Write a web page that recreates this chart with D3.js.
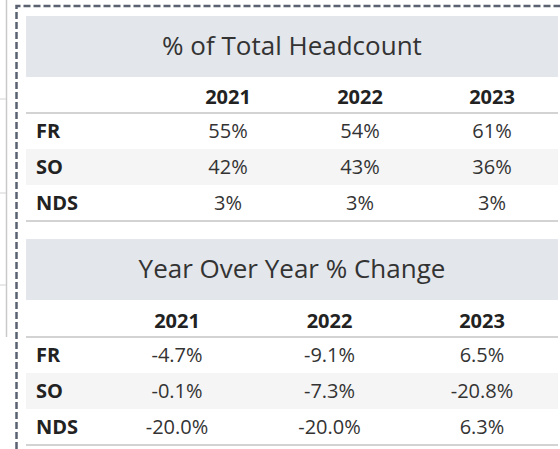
<!DOCTYPE html>
<html>
<head>
<meta charset="utf-8">
<script src="https://cdn.jsdelivr.net/npm/d3@7"></script>
<style>
  body { margin: 0; background: #fff; }
  svg { display: block; }
</style>
</head>
<body>
<div id="chart"></div>
<script>
var years = ["2021", "2022", "2023"];
var categories = ["FR", "SO", "NDS"];
var shareFR = ["55%", "54%", "61%"];
var shareSO = ["42%", "43%", "36%"];
var shareNDS = ["3%", "3%", "3%"];
var yoyFR = ["-4.7%", "-9.1%", "6.5%"];
var yoySO = ["-0.1%", "-7.3%", "-20.8%"];
var yoyNDS = ["-20.0%", "-20.0%", "6.3%"];

var width = 560, height = 449;
var font = "'Open Sans', 'Noto Sans', sans-serif";

var svg = d3.select("#chart")
    .append("svg")
    .attr("width", width)
    .attr("height", height);

// Bits of the neighbouring panel on the left
svg.append("line")
    .attr("x1", 6.5).attr("y1", 0).attr("x2", 6.5).attr("y2", 337)
    .attr("stroke", "#c9c9c9").attr("stroke-width", 1.5);
[99, 193, 285].forEach(y =>
    svg.append("line")
        .attr("x1", 0).attr("y1", y).attr("x2", 6).attr("y2", y)
        .attr("stroke", "#d2d2d2").attr("stroke-width", 1)
);

// Dashed container border (left and top)
svg.append("path")
    .attr("d", "M16.5,449 V6 H560")
    .attr("fill", "none")
    .attr("stroke", "#5a6271")
    .attr("stroke-width", 2.5)
    .attr("stroke-dasharray", "7,3");

// Draw one table: gray title band, year header, three rows
function drawTable(opts) {
    var g = svg.append("g");
    var x0 = 26, x1 = 558;

    // Title band
    g.append("rect")
        .attr("x", x0).attr("y", opts.bandTop)
        .attr("width", x1 - x0).attr("height", 61)
        .attr("fill", "#e3e6eb");
    g.append("text")
        .attr("x", (x0 + x1) / 2)
        .attr("y", opts.bandTop + 39)
        .attr("text-anchor", "middle")
        .attr("font-family", font)
        .attr("font-size", "26px")
        .attr("fill", "#333")
        .text(opts.title);

    // Column positions
    var xCol = d3.scalePoint()
        .domain(years)
        .range(opts.colRange);

    // Rows
    var yRow = d3.scaleBand()
        .domain(categories)
        .range([opts.headLine, opts.headLine + 108]);

    // Alternating band on the middle row
    g.append("rect")
        .attr("x", x0).attr("y", yRow("SO"))
        .attr("width", x1 - x0).attr("height", yRow.bandwidth())
        .attr("fill", "#f5f5f5");

    // Header years
    g.selectAll(".yr")
        .data(years)
        .enter().append("text")
        .attr("x", d => xCol(d))
        .attr("y", opts.headLine - 9)
        .attr("text-anchor", "middle")
        .attr("font-family", font)
        .attr("font-weight", "bold")
        .attr("font-size", "20px")
        .attr("fill", "#222")
        .text(d => d);

    // Rule lines under header and at bottom
    [opts.headLine, opts.headLine + 108].forEach(y =>
        g.append("line")
            .attr("x1", x0).attr("x2", x1)
            .attr("y1", y).attr("y2", y)
            .attr("stroke", "#d3d3d3").attr("stroke-width", 2)
    );

    // Row labels
    g.selectAll(".cat")
        .data(categories)
        .enter().append("text")
        .attr("x", 36)
        .attr("y", d => yRow(d) + yRow.bandwidth() / 2 + 7)
        .attr("font-family", font)
        .attr("font-weight", "bold")
        .attr("font-size", "20px")
        .attr("fill", "#222")
        .text(d => d);

    // Cells
    categories.forEach(function (c, i) {
        g.selectAll(".cell" + i)
            .data(opts.values[i])
            .enter().append("text")
            .attr("x", (d, j) => xCol(years[j]))
            .attr("y", yRow(c) + yRow.bandwidth() / 2 + 7)
            .attr("text-anchor", "middle")
            .attr("font-family", font)
            .attr("font-size", "20px")
            .attr("fill", "#333")
            .text(d => d);
    });
}

drawTable({
    title: "% of Total Headcount",
    bandTop: 16,
    headLine: 113,
    colRange: [228, 492],
    values: [shareFR, shareSO, shareNDS]
});

drawTable({
    title: "Year Over Year % Change",
    bandTop: 239,
    headLine: 337,
    colRange: [177, 482],
    values: [yoyFR, yoySO, yoyNDS]
});
</script>
</body>
</html>
